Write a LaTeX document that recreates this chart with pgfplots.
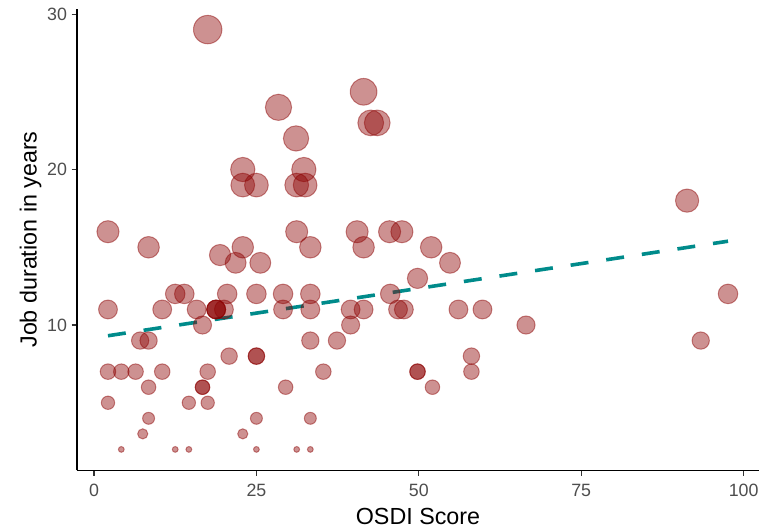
\documentclass[border=0pt]{standalone}
\usepackage{pgfplots}
\pgfplotsset{compat=1.18}
\usepackage{pgfplotstable}
\usepackage{fontspec}
\setmainfont{Liberation Sans}
\definecolor{darkred}{RGB}{139,0,0}
\definecolor{tealline}{RGB}{0,139,139}
\definecolor{gray30}{RGB}{77,77,77}
\definecolor{gray20}{RGB}{51,51,51}
\pgfplotstableread{
x y
17.5 29
41.5 25
28.4 24
42.6 23
43.6 23
31.1 22
22.9 20
32.3 20
22.9 19
25.0 19
31.2 19
32.5 19
91.3 18
2.15 16
31.2 16
40.5 16
45.5 16
47.4 16
8.4 15
22.9 15
33.3 15
41.5 15
51.9 15
19.4 14.5
21.8 14
25.6 14
54.8 14
49.8 13
12.5 12
13.9 12
20.5 12
25.0 12
29.1 12
33.3 12
45.6 12
97.6 12
2.15 11
10.5 11
15.8 11
18.8 11
18.8 11
18.8 11
20.0 11
29.1 11
33.3 11
39.5 11
41.5 11
46.8 11
47.7 11
56.1 11
59.8 11
16.7 10
39.5 10
66.5 10
7.1 9
8.4 9
33.3 9
37.4 9
93.4 9
20.8 8
25.0 8
25.0 8
58.1 8
2.15 7
4.2 7
6.4 7
10.5 7
17.5 7
35.3 7
49.8 7
49.8 7
58.1 7
8.4 6
16.7 6
16.7 6
29.5 6
52.1 6
2.15 5
14.6 5
17.5 5
8.4 4
25.0 4
33.3 4
7.5 3
22.9 3
4.2 2
12.5 2
14.6 2
25.0 2
31.2 2
33.3 2
}\osdi
\begin{document}
\begin{tikzpicture}
\begin{axis}[
  scale only axis, width=682bp, height=461.8bp,
  xmin=-2.62, xmax=102.37, ymin=0.65, ymax=30.35,
  axis x line*=bottom, axis y line*=left,
  axis line style={-, black, line width=1.07bp},
  tick align=outside, major tick length=5.3bp,
  tick style={gray20, line width=1.07bp},
  xtick={0,25,50,75,100}, ytick={10,20,30},
  xticklabels={0,25,50,75,100}, yticklabels={10,20,30},
  ticklabel style={font=\fontsize{17.8bp}{20bp}\selectfont, text=gray30},
  yticklabel style={anchor=east, inner sep=0pt, xshift=-4.5bp},
  xticklabel style={anchor=base, inner sep=0pt, yshift=-20.8bp},
  label style={font=\fontsize{23.3bp}{26bp}\selectfont},
  xlabel={OSDI Score},
  ylabel={Job duration in years},
  xlabel style={at={(axis description cs:0.5,-0.1182)}, anchor=base},
  ylabel style={at={(axis description cs:-0.0591,0.5)}, anchor=base},
  /pgf/number format/assume math mode=true,
]
\coordinate (bl) at (rel axis cs:0,0);
\coordinate (tr) at (rel axis cs:1,1);
\addplot[tealline, line width=3.6bp, dash pattern=on 18bp off 18bp, line cap=butt]
  coordinates {(2.15,9.31) (97.6,15.39)};
\addplot[scatter, only marks, mark=*,
  scatter/use mapped color={draw=darkred, fill=darkred},
  mark options={line width=1bp, draw opacity=0.45, fill opacity=0.43},
  visualization depends on={2.9+11.3*sqrt((\thisrow{y}-2)/27) \as \ms},
  scatter/@pre marker code/.append style={/tikz/mark size=\ms bp}]
  table[x=x, y=y]{\osdi};
\end{axis}
\pgfresetboundingbox
\path[use as bounding box] ([shift={(-77bp,-60.6bp)}]bl) rectangle ([shift={(0bp,8.6bp)}]tr);
\end{tikzpicture}
\end{document}
